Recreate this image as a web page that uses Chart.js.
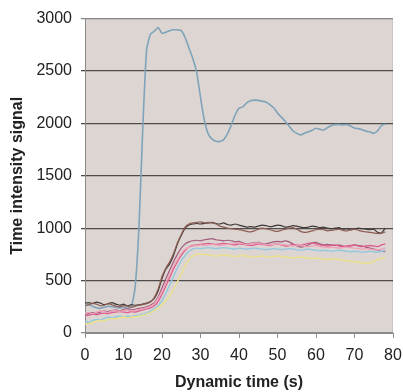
<!DOCTYPE html>
<html>
<head>
<meta charset="utf-8">
<script src="https://cdn.jsdelivr.net/npm/chart.js@4"></script>
<style>
  html, body { margin: 0; padding: 0; background: #fff; }
  #wrap { width: 403px; height: 392px; }
</style>
</head>
<body>
<div id="wrap"><canvas id="signalChart" width="403" height="392"></canvas></div>
<script>
// Time points (s)
const times = [0,1,2,3,4,5,6,7,8,9,10,11,12,13,14,15,16,17,18,19,20,21,22,23,24,25,26,27,28,29,
  30,31,32,33,34,35,36,37,38,39,40,41,42,43,44,45,46,47,48,49,50,51,52,53,54,55,56,57,58,59,
  60,61,62,63,64,65,66,67,68,69,70,71,72,73,74,75,76,77,78];

// Signal curves
const steelBlue = [275,270,255,240,235,245,255,250,245,240,245,235,250,430,1000,1950,2700,2850,2880,2915,
  2860,2870,2885,2893,2893,2885,2820,2720,2620,2490,2250,2030,1900,1850,1830,1828,1845,1900,1985,2080,
  2145,2158,2195,2215,2222,2220,2212,2205,2180,2150,2100,2060,2020,1975,1930,1905,1890,1905,1920,1935,
  1953,1945,1937,1960,1980,1988,1990,1985,1990,1975,1955,1950,1940,1925,1920,1905,1930,1980,1995];

const darkGrey = [285,290,280,295,285,270,280,290,275,265,275,260,270,265,268,275,285,300,330,400,
  520,610,660,740,850,930,1000,1030,1040,1045,1040,1045,1050,1055,1045,1040,1050,1035,1030,1040,
  1030,1020,1010,1015,1010,1020,1030,1025,1015,1020,1030,1025,1010,1015,1025,1020,1010,1005,1010,1020,
  1015,1005,1010,1000,995,1000,1005,990,995,985,990,1000,995,990,985,990,960,955,1000];

const brown = [260,270,285,275,260,265,280,270,255,250,262,255,245,255,265,270,280,295,340,420,
  540,620,680,760,860,940,1010,1040,1050,1055,1060,1050,1055,1050,1040,1020,1010,1000,995,990,
  985,980,970,965,975,990,1000,995,985,975,970,980,990,1000,1005,990,970,960,965,975,
  985,990,985,975,980,985,990,980,975,985,990,980,970,965,960,955,950,950,965];

const mauve = [180,185,195,190,200,210,205,215,220,210,225,230,220,225,235,240,250,265,290,345,
  430,520,600,680,750,810,850,870,880,885,880,890,895,900,890,885,880,885,880,870,
  875,860,850,855,860,865,855,850,860,870,875,870,880,870,850,830,820,825,840,860,
  865,850,840,845,840,835,840,830,825,830,840,835,830,820,810,800,790,780,775];

const magenta = [165,170,180,175,185,190,185,195,200,205,200,195,205,200,210,220,230,240,260,300,
  370,450,530,610,680,740,790,820,835,840,845,850,855,850,845,850,855,850,845,840,
  850,845,840,835,840,850,845,840,835,845,850,840,830,835,845,840,835,845,855,860,
  850,840,835,830,835,840,830,825,830,835,840,830,825,830,835,830,825,840,850];

const lightPink = [190,195,185,200,210,205,195,210,215,205,215,220,210,215,225,230,240,255,280,330,
  400,480,560,640,700,760,800,820,830,835,840,835,840,845,840,835,840,845,850,855,
  860,850,845,850,855,860,850,845,840,845,850,845,840,835,830,835,840,830,825,830,
  835,825,820,815,820,815,810,815,820,815,810,805,800,805,800,795,790,800,810];

const lightBlue = [110,100,120,130,125,140,150,145,155,160,150,160,155,165,170,180,190,210,230,260,
  310,380,460,540,620,690,740,780,800,810,805,810,815,810,805,810,815,810,805,800,
  810,805,800,805,810,805,800,795,800,805,800,795,800,805,800,795,790,795,800,795,
  790,785,790,785,780,785,790,785,780,775,780,775,770,775,780,775,770,780,790];

const yellow = [85,90,100,110,120,115,130,140,135,145,150,145,150,155,160,170,180,195,215,240,
  270,310,360,420,490,560,640,700,735,750,755,750,745,740,735,740,745,740,735,730,
  735,740,735,730,725,730,735,730,725,730,735,730,725,720,715,720,725,720,715,710,
  715,710,705,700,705,710,700,695,690,685,680,675,670,665,670,680,700,710,720];

const xTicks = [0,10,20,30,40,50,60,70,80];
const yTicks = [0,500,1000,1500,2000,2500,3000];

function pts(values) {
  return values.map((v, i) => ({ x: times[i], y: v }));
}

function series(values, color, width) {
  return {
    data: pts(values),
    borderColor: color,
    borderWidth: width,
    pointRadius: 0,
    tension: 0.2,
    fill: false
  };
}

// Grey plot background
const plotBackground = {
  id: 'plotBackground',
  beforeDraw(chart) {
    const { ctx, chartArea: a } = chart;
    ctx.save();
    ctx.fillStyle = '#dcd5d2';
    ctx.fillRect(a.left, a.top, a.right - a.left, a.bottom - a.top);
    ctx.strokeStyle = '#cbc4c1';
    ctx.lineWidth = 1;
    ctx.strokeRect(a.left + 0.5, a.top + 0.5, a.right - a.left - 1, a.bottom - a.top - 1);
    ctx.restore();
  }
};

const tickFont = { family: 'Liberation Sans, Arial', size: 16 };
const titleFont = { family: 'Liberation Sans, Arial', size: 16, weight: 'bold' };

const ctx = document.getElementById('signalChart').getContext('2d');
const signalChart = new Chart(ctx, {
  type: 'line',
  data: {
    datasets: [
      series(yellow, '#ece189', 1.4),
      series(lightBlue, '#93c9df', 1.4),
      series(lightPink, '#eda3b7', 1.3),
      series(magenta, '#df5a8e', 1.3),
      series(mauve, '#a25c7e', 1.2),
      series(brown, '#8e5d52', 1.2),
      series(darkGrey, '#3e3838', 1.2),
      series(steelBlue, '#7fa4b9', 1.6)
    ]
  },
  options: {
    responsive: false,
    animation: false,
    layout: { padding: { top: 16, right: 0, left: 0, bottom: 0 } },
    plugins: {
      legend: { display: false },
      tooltip: { enabled: false }
    },
    scales: {
      x: {
        type: 'linear',
        min: 0,
        max: 80,
        afterBuildTicks: axis => { axis.ticks = xTicks.map(v => ({ value: v })); },
        afterFit: axis => {
          axis.height = 59;
          axis.paddingLeft = 0;
          axis.paddingRight = 10;
        },
        border: { display: true, color: '#8a8a8a', width: 1 },
        grid: { drawOnChartArea: false, drawTicks: true, tickLength: 5, color: '#8a8a8a' },
        ticks: {
          color: '#222',
          font: tickFont,
          padding: 8,
          maxRotation: 0,
          callback: v => String(v)
        },
        title: {
          display: true,
          text: 'Dynamic time (s)',
          color: '#222',
          font: titleFont,
          padding: { top: 0, bottom: 0 }
        }
      },
      y: {
        min: 0,
        max: 3000,
        afterBuildTicks: axis => { axis.ticks = yTicks.map(v => ({ value: v })); },
        afterFit: axis => { axis.width = 85; },
        border: { display: true, color: '#8a8a8a', width: 1 },
        grid: {
          drawTicks: true,
          tickLength: 4,
          lineWidth: 1.3,
          color: c => (c.tick && c.tick.value > 0 && c.tick.value < 3000) ? '#4f4b4a' : '#8a8a8a'
        },
        ticks: {
          color: '#222',
          font: tickFont,
          padding: 9,
          callback: v => String(v)
        },
        title: {
          display: true,
          text: 'Time intensity signal',
          color: '#222',
          font: titleFont,
          padding: { top: 8, bottom: 0 }
        }
      }
    }
  },
  plugins: [plotBackground]
});
</script>
</body>
</html>
